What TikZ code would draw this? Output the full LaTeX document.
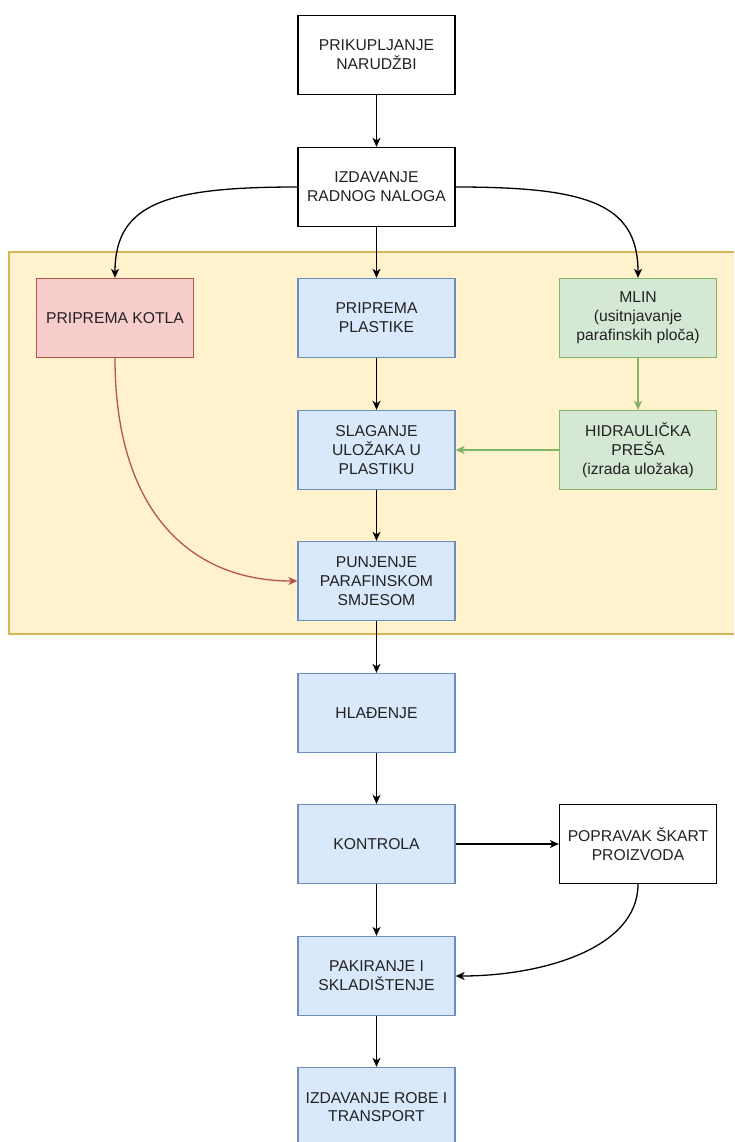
\documentclass[tikz,border=0pt]{standalone}
\usepackage{fontspec}
\setmainfont{Liberation Sans}
\usetikzlibrary{arrows.meta}
\definecolor{bluefill}{HTML}{DAE8FC}
\definecolor{blueline}{HTML}{6C8EBF}
\definecolor{greenfill}{HTML}{D5E8D4}
\definecolor{greenline}{HTML}{82B366}
\definecolor{redfill}{HTML}{F8CECC}
\definecolor{redline}{HTML}{B85450}
\definecolor{yellowfill}{HTML}{FFF2CC}
\definecolor{yellowline}{HTML}{D6B656}
\definecolor{textgray}{HTML}{222222}
\tikzset{
  stage/.style={draw=black, fill=white, line width=1.3pt, minimum width=157pt,
    minimum height=79pt, inner sep=2pt, align=center, text=textgray,
    font=\fontsize{15.7}{18.8}\selectfont},
  bluestage/.style={stage, draw=blueline, fill=bluefill},
  greenstage/.style={stage, draw=greenline, fill=greenfill},
  redstage/.style={stage, draw=redline, fill=redfill},
  flow/.style={line width=1.3pt, -{Stealth[length=9pt,width=8pt,inset=2.5pt]}},
}

\begin{document}
\begin{tikzpicture}[x=1pt, y=-1pt]
    \useasboundingbox (0,0) rectangle (734,1142);
    \clip (0,0) rectangle (734,1142);

    % background area
    \draw [yellowline, fill=yellowfill, line width=1.3pt] (9,252) rectangle (760,634);

    % draw stages
    \node [stage] (narudzbe) at (376.5,55) {PRIKUPLJANJE\\NARUDŽBI};
    \node [stage] (nalog) at (376.5,187) {IZDAVANJE\\RADNOG NALOGA};
    \node [redstage] (kotao) at (115,318) {PRIPREMA KOTLA};
    \node [bluestage] (plastika) at (376.5,318) {PRIPREMA\\PLASTIKE};
    \node [greenstage] (mlin) at (638,318) {MLIN\\(usitnjavanje\\parafinskih ploča)};
    \node [bluestage] (slaganje) at (376.5,450) {SLAGANJE\\ULOŽAKA U\\PLASTIKU};
    \node [greenstage] (presa) at (638,450) {HIDRAULIČKA\\PREŠA\\(izrada uložaka)};
    \node [bluestage] (punjenje) at (376.5,581) {PUNJENJE\\PARAFINSKOM\\SMJESOM};
    \node [bluestage] (hladenje) at (376.5,713) {HLAĐENJE};
    \node [bluestage] (kontrola) at (376.5,844) {KONTROLA};
    \node [stage] (popravak) at (638,844) {POPRAVAK ŠKART\\PROIZVODA};
    \node [bluestage] (pakiranje) at (376.5,976) {PAKIRANJE I\\SKLADIŠTENJE};
    \node [bluestage] (transport) at (376.5,1107) {IZDAVANJE ROBE I\\TRANSPORT};

    % straight flows
    \draw [flow] (narudzbe) -- (nalog);
    \draw [flow] (nalog) -- (plastika);
    \draw [flow] (plastika) -- (slaganje);
    \draw [flow] (slaganje) -- (punjenje);
    \draw [flow] (punjenje) -- (hladenje);
    \draw [flow] (hladenje) -- (kontrola);
    \draw [flow] (kontrola) -- (pakiranje);
    \draw [flow] (pakiranje) -- (transport);
    \draw [flow] (kontrola) -- (popravak);
    \draw [flow, greenline] (mlin) -- (presa);
    \draw [flow, greenline] (presa) -- (slaganje);

    % curved flows
    \draw [flow] (nalog.west) .. controls +(-130,0) and +(0,-75) .. (kotao.north);
    \draw [flow] (nalog.east) .. controls +(130,0) and +(0,-75) .. (mlin.north);
    \draw [flow, redline] (kotao.south) .. controls +(0,152) and +(-108,0) .. (punjenje.west);
    \draw [flow] (popravak.south) .. controls +(0,65) and +(85,0) .. (pakiranje.east);
\end{tikzpicture}
\end{document}
